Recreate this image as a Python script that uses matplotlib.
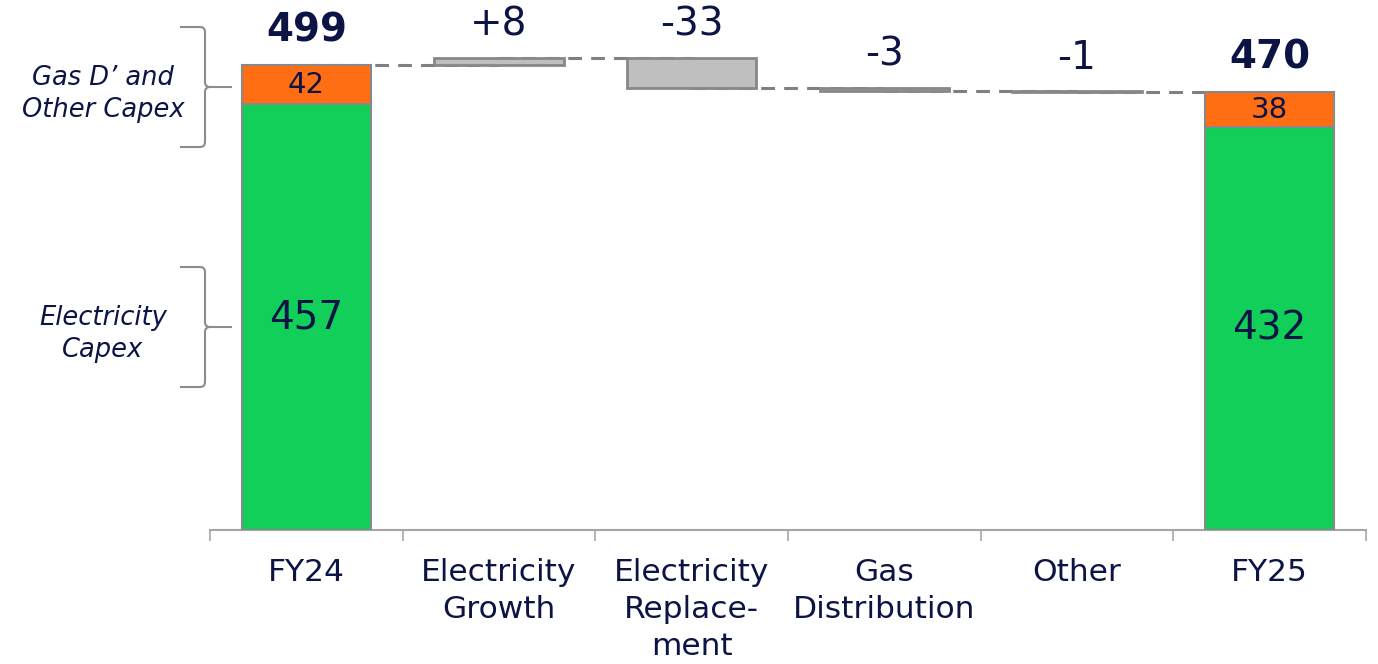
import matplotlib
matplotlib.use("Agg")
import matplotlib.pyplot as plt
from matplotlib.path import Path
from matplotlib.patches import PathPatch
from matplotlib.transforms import Affine2D
import numpy as np

# ---- data ----
categories = ["FY24", "Electricity\nGrowth", "Electricity\nReplace-\nment",
              "Gas\nDistribution", "Other", "FY25"]
elec_capex = [457, 432]          # FY24, FY25
gas_other_capex = [42, 38]       # FY24, FY25
deltas = [8, -33, -3, -1]        # bridge items
bracket_labels = ["Gas D\u2019 and\nOther Capex", "Electricity\nCapex"]

# ---- style ----
GREEN = "#12CF5A"
ORANGE = "#FF6E12"
GREY = "#BFBFBF"
EDGE = "#888888"
NAVY = "#0C1446"
W, H = 1378, 664

fig = plt.figure(figsize=(W / 100, H / 100), dpi=100)
ax = fig.add_axes([210 / W, 1 - 530 / H, (1366 - 210) / W, 530 / H])
ax.set_xlim(-0.5, len(categories) - 0.5)
ax.set_ylim(0, 530 / 0.9319)

bw = 0.67
tot_x = [0, len(categories) - 1]
totals = [e + g for e, g in zip(elec_capex, gas_other_capex)]

# total bars
ax.bar(tot_x, elec_capex, width=bw, color=GREEN, edgecolor=EDGE, linewidth=1.5, zorder=3)
ax.bar(tot_x, gas_other_capex, bottom=elec_capex, width=bw, color=ORANGE,
       edgecolor=EDGE, linewidth=1.5, zorder=3)
for x, e, g, t in zip(tot_x, elec_capex, gas_other_capex, totals):
    ax.text(x, e / 2, f"{e}", ha="center", va="center", fontsize=28, color=NAVY, zorder=5)
    ax.text(x, e + g / 2, f"{g}", ha="center", va="center", fontsize=21, color=NAVY, zorder=5)
    ax.annotate(f"{t}", (x, t), xytext=(0, 25), textcoords="offset points",
                ha="center", va="center", fontsize=28, fontweight="bold", color=NAVY)

# delta bars
running = totals[0]
levels = [running]
for i, d in enumerate(deltas):
    x = i + 1
    bottom = running if d >= 0 else running + d
    ax.bar(x, abs(d), bottom=bottom, width=bw, color=GREY, edgecolor=EDGE,
           linewidth=2, zorder=3)
    running += d
    levels.append(running)
    top = max(levels[-1], levels[-2])
    ax.annotate(f"{d:+d}", (x, top), xytext=(0, 24), textcoords="offset points",
                ha="center", va="center", fontsize=28, color=NAVY)

# connectors (centre to centre at running level)
for i, lv in enumerate(levels):
    ax.plot([i, i + 1], [lv, lv], color="#808080", linestyle=(0, (4.5, 3)),
            linewidth=2.2, zorder=2)

# axes styling
for s in ["top", "right", "left"]:
    ax.spines[s].set_visible(False)
ax.spines["bottom"].set_color("#A6A6A6")
ax.spines["bottom"].set_linewidth(1.5)
ax.set_yticks([])
ax.set_xticks(range(len(categories)))
ax.set_xticklabels(categories, fontsize=22.5, color=NAVY, linespacing=1.36)
ax.tick_params(axis="x", which="major", length=0, pad=20)
ax.set_xticks(np.arange(-0.5, len(categories), 1.0), minor=True)
ax.tick_params(axis="x", which="minor", length=8, width=1.2, color="#A6A6A6", direction="out")

# brackets (pixel coordinates -> figure)
px = Affine2D().scale(1 / W, -1 / H).translate(0, 1) + fig.transFigure


def brace(ytop, ybot, xl=180, xs=205, xt=232, r=5):
    mid = (ytop + ybot) / 2
    verts = [(xl, ytop), (xs - r, ytop), (xs, ytop), (xs, ytop + r),
             (xs, mid - r), (xs, mid), (xs + r, mid), (xt, mid),
             (xs + r, mid), (xs, mid), (xs, mid + r),
             (xs, ybot - r), (xs, ybot), (xs - r, ybot), (xl, ybot)]
    codes = [Path.MOVETO, Path.LINETO, Path.CURVE3, Path.CURVE3,
             Path.LINETO, Path.CURVE3, Path.CURVE3, Path.LINETO,
             Path.MOVETO, Path.CURVE3, Path.CURVE3,
             Path.LINETO, Path.CURVE3, Path.CURVE3, Path.LINETO]
    fig.patches.append(PathPatch(Path(verts, codes), fill=False, edgecolor="#8C8C8C",
                                 linewidth=1.5, transform=px))


brace(27, 147)
brace(267, 387)
fig.text(103 / W, 1 - 94 / H, bracket_labels[0], ha="center", va="center",
         fontsize=18.5, style="italic", color=NAVY, linespacing=1.3)
fig.text(103 / W, 1 - 334 / H, bracket_labels[1], ha="center", va="center",
         fontsize=18.5, style="italic", color=NAVY, linespacing=1.3)

fig.savefig("out.png", dpi=100)
